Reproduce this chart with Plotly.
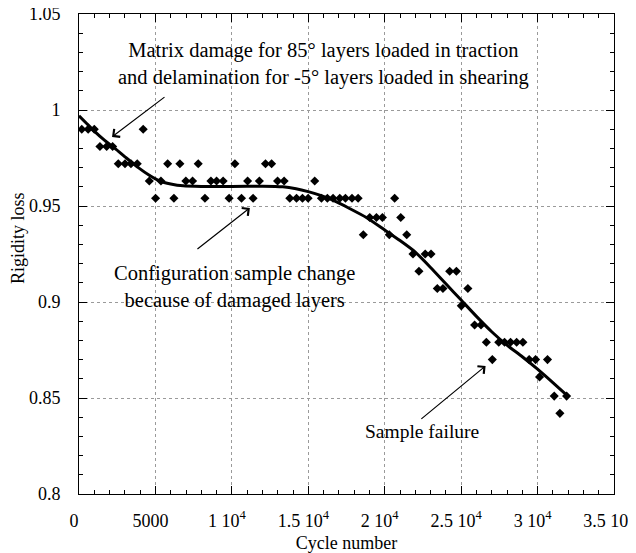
import plotly.graph_objects as go

# ---- data ----
pts_090_x = [180, 600, 1000, 4200]
pts_081_x = [1370, 1810, 2200]
pts_072_x = [2570, 3010, 3400, 3810, 5800, 6600, 7800, 10200, 12200, 12600]
pts_063_x = [4600, 5360, 6990, 7430, 8630, 9000, 9430, 11030, 11800, 12990, 13420, 15420]
pts_054_x = [5010, 6210, 8240, 9820, 10630, 11390, 13790, 14230, 14620, 14990,
             15860, 16250, 16620, 17060, 17430, 17860, 18260, 20650]
pts_044_x = [19020, 19460, 19850, 21050]
pts_035_x = [18600, 20300, 21440]
pts_025_x = [21850, 22650, 23030]
pts_016_x = [22240, 24250, 24690]
pts_907_x = [23440, 23810, 25440]
pts_898_x = [25010]
pts_888_x = [25880, 26300]
pts_879_x = [26650, 27460, 27840, 28230, 28630, 29040]
pts_870_x = [27040, 29450, 29870, 30650]
pts_861_x = [30130]
pts_851_x = [31090, 31900]
pts_842_x = [31460]

levels = [0.990, 0.981, 0.972, 0.963, 0.954, 0.944, 0.935, 0.925, 0.916,
          0.907, 0.898, 0.888, 0.879, 0.870, 0.861, 0.851, 0.842]
groups = [pts_090_x, pts_081_x, pts_072_x, pts_063_x, pts_054_x, pts_044_x,
          pts_035_x, pts_025_x, pts_016_x, pts_907_x, pts_898_x, pts_888_x,
          pts_879_x, pts_870_x, pts_861_x, pts_851_x, pts_842_x]

cycles = []
rigidity = []
for lv, g in zip(levels, groups):
    for xv in g:
        cycles.append(xv)
        rigidity.append(lv)

fit_x = [0, 500, 1000, 1700, 2350, 3100, 3880, 4600, 5290, 6000, 6820, 8000, 10000,
         12000, 13330, 14200, 14990, 15800, 16620, 17700, 18800, 20000, 21000, 22000,
         23000, 24000, 25000, 26000, 27000, 28000, 29000, 30000, 31000, 31980]
fit_y = [0.997, 0.993, 0.989, 0.984, 0.980, 0.975, 0.970, 0.966, 0.963, 0.9615, 0.9605,
         0.9602, 0.9602, 0.9603, 0.9600, 0.9590, 0.9575, 0.9555, 0.953, 0.9487, 0.944,
         0.9375, 0.932, 0.926, 0.918, 0.9095, 0.901, 0.8925, 0.8845, 0.8775, 0.8715,
         0.865, 0.858, 0.851]

x_tickvals = [0, 5000, 10000, 15000, 20000, 25000, 30000, 35000]
x_ticktext = ["0", "5000", "1 10<sup>4</sup>", "1.5 10<sup>4</sup>", "2 10<sup>4</sup>",
              "2.5 10<sup>4</sup>", "3 10<sup>4</sup>", "3.5 10<sup>4</sup>"]
y_tickvals = [0.8, 0.85, 0.9, 0.95, 1.0, 1.05]
y_ticktext = ["0.8", "0.85", "0.9", "0.95", "1", "1.05"]

FONT = "Liberation Serif, Times New Roman, serif"

fig = go.Figure()
fig.add_trace(go.Scatter(x=cycles, y=rigidity, mode="markers",
                         marker=dict(symbol="diamond", size=7, color="black"),
                         showlegend=False))
fig.add_trace(go.Scatter(x=fit_x, y=fit_y, mode="lines",
                         line=dict(color="black", width=3, shape="spline", smoothing=0.6),
                         showlegend=False))

axis_common = dict(showline=True, linecolor="black", linewidth=1, mirror="ticks",
                   ticks="inside", tickcolor="black", ticklen=8, tickwidth=1,
                   showgrid=True, gridcolor="#9a9a9a", gridwidth=1, griddash="3px,3px",
                   zeroline=False, automargin=False, ticklabeloverflow="allow",
                   tickfont=dict(family=FONT, size=18, color="black"))

fig.update_xaxes(range=[0, 35000], tickvals=x_tickvals, ticktext=x_ticktext,
                 minor=dict(dtick=1000, ticks="inside", ticklen=4, tickcolor="black", showgrid=False),
                 title=dict(text="Cycle number", font=dict(family=FONT, size=18, color="black"),
                            standoff=6),
                 ticklabelstandoff=10, ticklabelshift=-5,
                 **axis_common)
fig.update_yaxes(range=[0.8, 1.05], tickvals=y_tickvals, ticktext=y_ticktext,
                 minor=dict(dtick=0.01, ticks="inside", ticklen=4, tickcolor="black", showgrid=False),
                 ticklabelstandoff=14,
                 **axis_common)

annots = [
    dict(x=16010, y=1.024, size=20.5,
         text="Matrix damage for 85° layers loaded in traction<br>and delamination for -5° layers loaded in shearing"),
    dict(x=10200, y=0.908, size=20.5,
         text="Configuration sample change<br>because of damaged layers"),
    dict(x=22420, y=0.8323, size=19.5, text="Sample failure"),
]
for a in annots:
    fig.add_annotation(x=a["x"], y=a["y"], xref="x", yref="y", text=a["text"],
                       showarrow=False, xanchor="center", yanchor="middle",
                       font=dict(family=FONT, size=a["size"], color="black"))

arrows = [
    (2160, 0.986, 5690, 1.0073),
    (11180, 0.949, 7650, 0.927),
    (26600, 0.8667, 22300, 0.8385),
]
for hx, hy, tx, ty in arrows:
    fig.add_annotation(x=hx, y=hy, ax=tx, ay=ty, xref="x", yref="y", axref="x", ayref="y",
                       text="", showarrow=True, arrowhead=4, arrowsize=1.6, arrowwidth=1.2,
                       arrowcolor="black")

fig.add_annotation(xref="paper", yref="y", x=-0.114, y=0.9333, text="Rigidity loss",
                   textangle=-90, showarrow=False, xanchor="center", yanchor="middle",
                   font=dict(family=FONT, size=18, color="black"))

# the page body adds an 8px offset; margins are set so the plot lands where the reference has it
fig.update_layout(width=636, height=553, margin=dict(l=71, r=29.5, t=6, b=67),
                  plot_bgcolor="white", paper_bgcolor="white",
                  font=dict(family=FONT, size=18, color="black"))

fig.write_html("out.html")
